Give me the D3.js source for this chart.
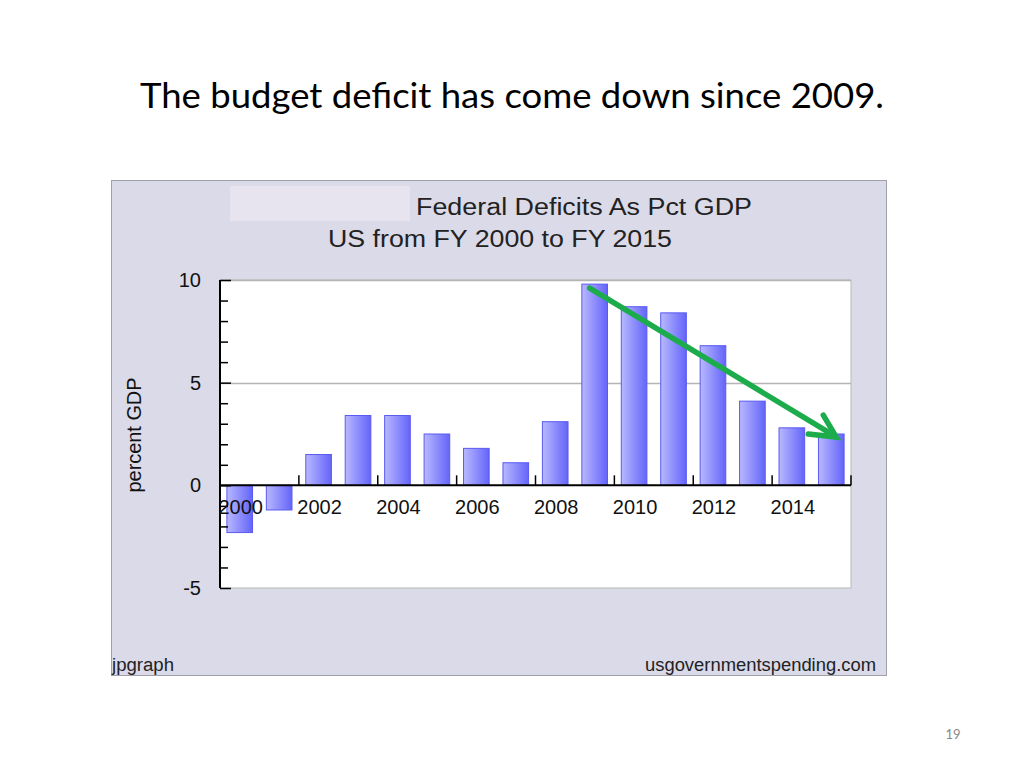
<!DOCTYPE html>
<html>
<head>
<meta charset="utf-8">
<script src="https://cdn.jsdelivr.net/npm/d3@7"></script>
<style>
  html, body { margin: 0; padding: 0; background: #fff; }
  svg { display: block; }
</style>
</head>
<body>
<svg id="chart" width="1024" height="768"></svg>
<script>
// ---- data ----
const years = [2000, 2001, 2002, 2003, 2004, 2005, 2006, 2007, 2008, 2009, 2010, 2011, 2012, 2013, 2014, 2015];
const deficits = [-2.3, -1.2, 1.5, 3.4, 3.4, 2.5, 1.8, 1.1, 3.1, 9.8, 8.7, 8.4, 6.8, 4.1, 2.8, 2.5];
const yTicks = [-5, 0, 5, 10];
const xTickLabels = [2000, 2002, 2004, 2006, 2008, 2010, 2012, 2014];
const slideTitle = "The budget deficit has come down since 2009.";
const chartTitle1 = "Federal Deficits As Pct GDP";
const chartTitle2 = "US from FY 2000 to FY 2015";
const yAxisTitle = "percent GDP";
const footLeft = "jpgraph";
const footRight = "usgovernmentspending.com";
const pageNumber = "19";
// trend arrow annotation: [year, value] start and end
const arrowFrom = [2009, 9.6];
const arrowTo = [2015, 2.35];

// ---- layout ----
const svg = d3.select("#chart");
const plot = { left: 220, right: 851, top: 280, bottom: 588 };

const x = d3.scaleBand().domain(years).range([plot.left, plot.right]).paddingInner(0.35).paddingOuter(0.175);
const xb = d3.scaleBand().domain(years).range([plot.left, plot.right]); // full bands
const y = d3.scaleLinear().domain([-5, 10]).range([plot.bottom, plot.top]);

// slide title
svg.append("text").attr("x", 512).attr("y", 108).attr("text-anchor", "middle")
  .attr("font-family", "Lato, 'Open Sans', sans-serif").attr("font-size", 35).attr("fill", "#000")
  .attr("textLength", 744).attr("lengthAdjust", "spacingAndGlyphs")
  .text(slideTitle);

// page number
svg.append("text").attr("x", 953).attr("y", 739).attr("text-anchor", "middle")
  .attr("font-family", "Lato, sans-serif").attr("font-size", 13).attr("fill", "#888")
  .text(pageNumber);

// chart panel
svg.append("rect").attr("x", 111.5).attr("y", 180.5).attr("width", 775).attr("height", 495)
  .attr("fill", "#dadae9").attr("stroke", "#a0a0a8").attr("stroke-width", 1);

// masked box behind title
svg.append("rect").attr("x", 230).attr("y", 186).attr("width", 180).attr("height", 35)
  .attr("fill", "#e8e4ef");

const chartFont = "'Liberation Sans', Arial, sans-serif";
svg.append("text").attr("x", 584).attr("y", 215).attr("text-anchor", "middle")
  .attr("font-family", chartFont).attr("font-size", 23).attr("fill", "#222")
  .attr("textLength", 336).attr("lengthAdjust", "spacingAndGlyphs")
  .text(chartTitle1);
svg.append("text").attr("x", 500).attr("y", 247).attr("text-anchor", "middle")
  .attr("font-family", chartFont).attr("font-size", 23).attr("fill", "#222")
  .attr("textLength", 344).attr("lengthAdjust", "spacingAndGlyphs")
  .text(chartTitle2);

// plot area
svg.append("rect").attr("x", plot.left).attr("y", plot.top)
  .attr("width", plot.right - plot.left).attr("height", plot.bottom - plot.top)
  .attr("fill", "#fff").attr("stroke", "#b8b8b8").attr("stroke-width", 1);

// grid lines at major ticks
svg.append("g").selectAll("line").data(yTicks.filter(d => d !== 0 && d !== -5)).join("line")
  .attr("x1", plot.left).attr("x2", plot.right)
  .attr("y1", d => Math.round(y(d)) + 0.5).attr("y2", d => Math.round(y(d)) + 0.5)
  .attr("stroke", "#b4b4b4").attr("stroke-width", 1.5);

// gradient for bars
const defs = svg.append("defs");
const grad = defs.append("linearGradient").attr("id", "barGrad").attr("x1", "0%").attr("x2", "100%").attr("y1", "0%").attr("y2", "0%");
grad.append("stop").attr("offset", "0%").attr("stop-color", "#b8b8ff");
grad.append("stop").attr("offset", "100%").attr("stop-color", "#6464fa");

// bars
svg.append("g").selectAll("rect").data(years).join("rect")
  .attr("x", d => x(d))
  .attr("width", x.bandwidth())
  .attr("y", (d, i) => y(Math.max(0, deficits[i])))
  .attr("height", (d, i) => Math.abs(y(deficits[i]) - y(0)))
  .attr("fill", "url(#barGrad)")
  .attr("stroke", "#5a5af0").attr("stroke-width", 1);

// y axis
const yAxis = d3.axisRight(y).tickValues(d3.range(-5, 11, 1)).tickSize(8).tickFormat("");
const gy = svg.append("g").attr("transform", `translate(${plot.left},0)`).call(yAxis);
gy.select(".domain").attr("stroke", "#000").attr("stroke-width", 2).attr("d", `M0,${plot.top}V${plot.bottom}`);
gy.selectAll(".tick line").attr("stroke", "#000").attr("stroke-width", 1.5)
  .attr("x2", d => yTicks.includes(d) ? 11 : 8);
svg.append("g").selectAll("text").data(yTicks).join("text")
  .attr("x", 201).attr("y", d => y(d) + 7).attr("text-anchor", "end")
  .attr("font-family", chartFont).attr("font-size", 20).attr("fill", "#111")
  .text(d => d);

// y axis title
svg.append("text").attr("transform", `translate(141,435) rotate(-90)`)
  .attr("text-anchor", "middle")
  .attr("font-family", chartFont).attr("font-size", 20).attr("fill", "#111")
  .attr("textLength", 115).attr("lengthAdjust", "spacingAndGlyphs")
  .text(yAxisTitle);

// x axis at zero
const xAxisG = svg.append("g");
xAxisG.append("line").attr("x1", plot.left).attr("x2", plot.right)
  .attr("y1", y(0)).attr("y2", y(0)).attr("stroke", "#000").attr("stroke-width", 2);
// ticks at every second band boundary, pointing up
const boundaryYears = years.filter((d, i) => i % 2 === 1);
xAxisG.selectAll("line.tk").data(boundaryYears).join("line").attr("class", "tk")
  .attr("x1", d => xb(d) + xb.bandwidth()).attr("x2", d => xb(d) + xb.bandwidth())
  .attr("y1", y(0)).attr("y2", y(0) - 10)
  .attr("stroke", "#000").attr("stroke-width", 1.5);
xAxisG.selectAll("text").data(xTickLabels).join("text")
  .attr("x", d => xb(d) + xb.bandwidth() / 2 + 1).attr("y", y(0) + 29)
  .attr("text-anchor", "middle")
  .attr("font-family", chartFont).attr("font-size", 20).attr("fill", "#111")
  .text(d => d);

// footers
svg.append("text").attr("x", 112).attr("y", 671)
  .attr("font-family", chartFont).attr("font-size", 18).attr("fill", "#222")
  .attr("textLength", 62).attr("lengthAdjust", "spacingAndGlyphs").text(footLeft);
svg.append("text").attr("x", 876).attr("y", 671).attr("text-anchor", "end")
  .attr("font-family", chartFont).attr("font-size", 18).attr("fill", "#222")
  .attr("textLength", 231).attr("lengthAdjust", "spacingAndGlyphs").text(footRight);

// green trend arrow
const ax = d => xb(d) + xb.bandwidth() / 2;
const x1 = ax(arrowFrom[0]) - 5, y1 = y(arrowFrom[1]);
const x2 = ax(arrowTo[0]) + 5, y2 = y(arrowTo[1]);
const green = "#1cac4c";
svg.append("line").attr("x1", x1).attr("y1", y1).attr("x2", x2 - 3).attr("y2", y2 - 2)
  .attr("stroke", green).attr("stroke-width", 5.5).attr("stroke-linecap", "round");
svg.append("path")
  .attr("d", `M${x2 - 13},${y2 - 22} L${x2},${y2} L${x2 - 28},${y2 - 3}`)
  .attr("fill", "none").attr("stroke", green).attr("stroke-width", 5.5)
  .attr("stroke-linecap", "round").attr("stroke-linejoin", "miter");
</script>
</body>
</html>
